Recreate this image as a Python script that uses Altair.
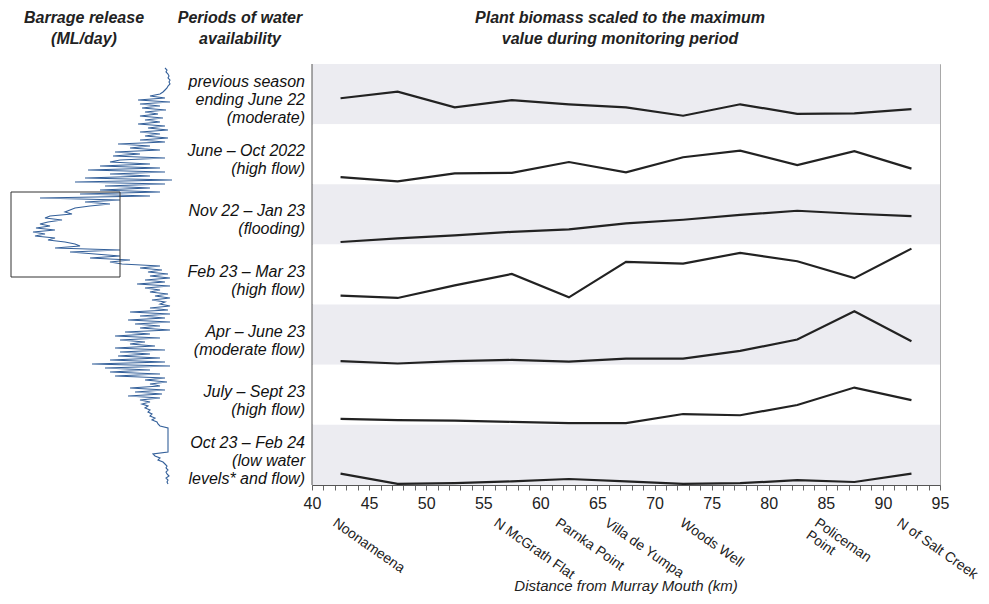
import altair as alt
import pandas as pd

FONT = "Liberation Sans"
W, H = 628, 421

# ---------------- data ----------------
sites_km = [42.5, 47.5, 52.5, 57.5, 62.5, 67.5, 72.5, 77.5, 82.5, 87.5, 92.5]

periods = [
    "previous season\nending June 22\n(moderate)",
    "June \u2013 Oct 2022\n(high flow)",
    "Nov 22 \u2013 Jan 23\n(flooding)",
    "Feb 23 \u2013 Mar 23\n(high flow)",
    "Apr \u2013 June 23\n(moderate flow)",
    "July \u2013 Sept 23\n(high flow)",
    "Oct 23 \u2013 Feb 24\n(low water\nlevels* and flow)",
]

biomass = [
    [0.43, 0.54, 0.28, 0.40, 0.33, 0.28, 0.14, 0.33, 0.17, 0.18, 0.25],
    [0.12, 0.05, 0.18, 0.19, 0.37, 0.20, 0.45, 0.56, 0.32, 0.55, 0.26],
    [0.04, 0.10, 0.15, 0.21, 0.25, 0.35, 0.41, 0.49, 0.56, 0.51, 0.47],
    [0.15, 0.11, 0.32, 0.51, 0.12, 0.71, 0.68, 0.86, 0.72, 0.44, 0.93],
    [0.06, 0.02, 0.06, 0.08, 0.05, 0.10, 0.10, 0.23, 0.42, 0.89, 0.39],
    [0.10, 0.08, 0.07, 0.05, 0.03, 0.03, 0.18, 0.16, 0.33, 0.62, 0.41],
    [0.19, 0.02, 0.03, 0.06, 0.10, 0.06, 0.02, 0.03, 0.08, 0.05, 0.19],
]

site_names = ["Noonameena", "N McGrath Flat", "Parnka Point", "Villa de Yumpa",
              "Woods Well", "Policeman\nPoint", "N of Salt Creek"]
site_label_km = [42.3, 56.4, 61.8, 66.1, 72.7, 84.5, 91.7]

# barrage release (ML/day), roughly every few days, top = earliest
release = [7000, 5000, 6000, 4000, 3000, 4000, 2000, 3000, 2000, 4000, 5000, 7000, 9000, 12000,
           22000, 7000, 34000, 2000, 32000, 12000, 30000, 6000, 27000, 14000, 32000, 9000, 27000,
           12000, 34000, 7000, 24000, 4000, 32000, 12000, 27000, 4000, 32000, 7000, 54000, 22000,
           42000, 12000, 57000, 32000, 59000, 7000, 52000, 62000, 22000, 72000, 12000, 84000, 7000,
           62000, 22000, 87000, 0, 97000, 7000, 67000, 22000, 72000, 12000, 92000, 22000, 132000,
           52000, 87000, 62000, 82000, 97000, 102000, 107000, 100000, 122000, 127000, 110000,
           124000, 132000, 122000, 136000, 117000, 139000, 127000, 137000, 117000, 124000, 107000,
           97000, 92000, 117000, 52000, 102000, 77000, 52000, 82000, 42000, 62000, 50000, 12000,
           32000, 10000, 24000, 4000, 22000, 2000, 27000, 7000, 35000, 2000, 27000, 12000, 22000,
           4000, 17000, 2000, 20000, 7000, 12000, 2000, 22000, 4000, 42000, 2000, 32000, 7000,
           44000, 2000, 37000, 12000, 32000, 2000, 47000, 22000, 57000, 12000, 52000, 27000, 42000,
           17000, 57000, 7000, 52000, 22000, 54000, 12000, 62000, 7000, 80000, 2000, 67000, 22000,
           62000, 12000, 57000, 7000, 27000, 5000, 22000, 12000, 42000, 7000, 37000, 10000, 44000,
           12000, 32000, 22000, 30000, 24000, 27000, 22000, 24000, 20000, 22000, 17000, 20000,
           15000, 14000, 12000, 4000, 4000, 4000, 4000, 4000, 4000, 4000, 4000, 4000, 4000, 4000,
           4000, 4000, 19000, 17000, 12000, 14000, 9000, 7000, 5000, 6000, 4000, 6000, 5000, 3000,
           6000, 4000, 5000, 4000]

flood_box_day = [62, 104.5]
flood_box_release = [52000, 161000]

# ---------------- tables ----------------
n_bands = len(periods)
bands = pd.DataFrame({
    "k": list(range(n_bands)),
    "lo": [n_bands - 1 - k for k in range(n_bands)],
    "hi": [n_bands - k for k in range(n_bands)],
    "shade": ["#ececf1" if k % 2 == 0 else "#ffffff" for k in range(n_bands)],
    "mid": [n_bands - k - 0.5 for k in range(n_bands)],
    "label": periods,
})

rows = []
for k, vals in enumerate(biomass):
    for km, v in zip(sites_km, vals):
        rows.append({"k": k, "km": km, "value": v, "base": n_bands - 1 - k})
lines_df = pd.DataFrame(rows)

sites_df = pd.DataFrame({"name": site_names, "km": site_label_km})
rel_df = pd.DataFrame({"day": list(range(len(release))), "release": release})
box_df = pd.DataFrame({"d0": [flood_box_day[0]], "d1": [flood_box_day[1]],
                       "r0": [flood_box_release[0]], "r1": [flood_box_release[1]]})
dummy = alt.Data(values=[{}])

yband = alt.Scale(domain=[0, n_bands], nice=False, zero=False)
xkm = alt.Scale(domain=[40, 95], nice=False, zero=False)
xrel = alt.Scale(domain=[0, 160000], range=[-140, -300], nice=False, zero=False)
yday = alt.Scale(domain=[0, len(release) - 1], range=[4, 420], nice=False, zero=False)

band_layer = alt.Chart(bands).mark_rect().encode(
    x=alt.value(0), x2=alt.value(W),
    y=alt.Y("lo:Q", scale=yband, axis=None), y2="hi:Q",
    color=alt.Color("shade:N", scale=None),
)

line_layer = alt.Chart(lines_df).transform_calculate(
    ypos="datum.base + datum.value"
).mark_line(color="#222222", strokeWidth=2.2).encode(
    x=alt.X("km:Q", scale=xkm, axis=alt.Axis(
        values=list(range(40, 96)),
        labelExpr="datum.value % 5 == 0 ? datum.label : ''",
        title=None, grid=False, tickSize=5, labelPadding=5,
        labelFontSize=16, labelFont=FONT, labelColor="#222222",
        tickColor="#666666", domainColor="#555555", labelFlush=False, labelOverlap=False)),
    y=alt.Y("ypos:Q", scale=yband, axis=None),
    detail="k:N",
    order="km:Q",
)

left_edge = alt.Chart(dummy).mark_rule(color="#555555", strokeWidth=1).encode(
    x=alt.value(0), y=alt.value(0), y2=alt.value(H)
)

rel_line = alt.Chart(rel_df).mark_line(color="#34609a", strokeWidth=1.1).encode(
    x=alt.X("release:Q", scale=xrel, axis=None),
    y=alt.Y("day:Q", scale=yday, axis=None),
    order="day:Q",
)
box = alt.Chart(box_df).mark_rect(fill=None, fillOpacity=0, stroke="#333333", strokeWidth=1).encode(
    x=alt.X("r0:Q", scale=xrel, axis=None), x2="r1:Q",
    y=alt.Y("d0:Q", scale=yday, axis=None), y2="d1:Q",
)
rel_panel = alt.layer(rel_line, box)

LH = 18
period_text = alt.Chart(bands).transform_calculate(
    nlines="length(split(datum.label, '\\n'))",
    ypos=f"datum.mid + (datum.nlines - 1) * {LH / 2} / {H / n_bands}",
).mark_text(
    align="right", baseline="middle", font=FONT, fontSize=16, fontStyle="italic",
    lineBreak="\n", lineHeight=LH, dy=6, color="#111111"
).encode(
    x=alt.value(-7),
    y=alt.Y("ypos:Q", scale=yband, axis=None),
    text="label:N",
)

site_text = alt.Chart(sites_df).mark_text(
    align="left", baseline="top", angle=35, font=FONT, fontSize=14,
    lineBreak="\n", lineHeight=15, color="#222222"
).encode(
    x=alt.X("km:Q", scale=xkm, axis=None),
    y=alt.value(452),
    text="name:N",
)

def header(lines, cx):
    return alt.Chart(dummy).mark_text(
        align="center", baseline="middle", font=FONT, fontSize=16, fontWeight="bold",
        fontStyle="italic", lineHeight=21, color="#222222"
    ).encode(x=alt.value(cx), y=alt.value(-46), text=alt.value(lines))

h1 = header(["Barrage release", "(ML/day)"], 84 - 312)
h2 = header(["Periods of water", "availability"], 240 - 312)
h3 = header(["Plant biomass scaled to the maximum", "value during monitoring period"], 620 - 312)

xtitle = alt.Chart(dummy).mark_text(
    align="center", baseline="middle", font=FONT, fontSize=15, fontStyle="italic", color="#222222"
).encode(x=alt.value(W / 2), y=alt.value(522), text=alt.value("Distance from Murray Mouth (km)"))

chart = alt.layer(
    band_layer, line_layer, left_edge, rel_panel, period_text, site_text, h1, h2, h3, xtitle
).resolve_scale(x="independent", y="independent").resolve_axis(
    x="independent", y="independent"
).properties(
    width=W, height=H,
    autosize=alt.AutoSizeParams(type="none"),
    padding={"left": 304, "top": 56, "right": 41, "bottom": 111},
).configure_view(stroke="#a8a8a8", strokeWidth=1)

chart.save("out.html", embed_options={"renderer": "svg", "actions": False})
